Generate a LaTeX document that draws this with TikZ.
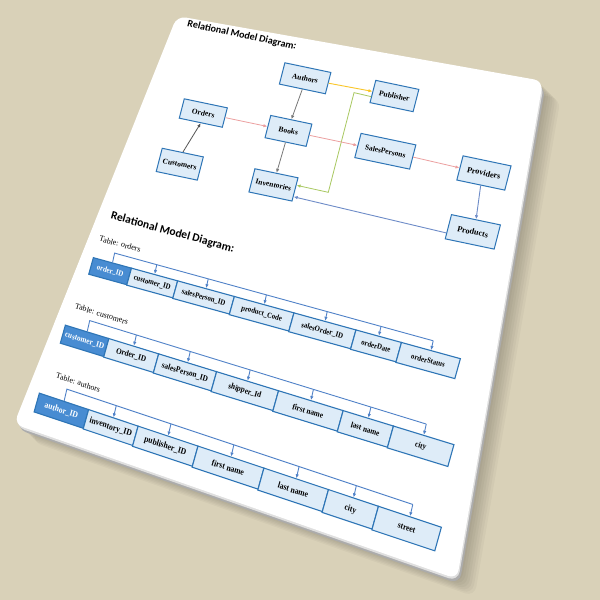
\documentclass[tikz,border=0pt]{standalone}
\usepackage{fontspec}
\setmainfont{Liberation Serif}
\newfontfamily\headfont{Carlito}
\newfontfamily\cellfont[FakeStretch=0.88]{Liberation Serif}
\usepackage{tikz}
\usetikzlibrary{arrows.meta,calc}
\definecolor{bgtan}{RGB}{217,209,184}
\definecolor{entblue}{RGB}{46,117,182}
\definecolor{entfill}{RGB}{222,236,248}
\definecolor{keyblue}{RGB}{72,140,210}
\definecolor{linkblue}{RGB}{80,130,200}
\definecolor{linkpink}{RGB}{236,160,160}
\definecolor{linkgold}{RGB}{250,198,40}
\definecolor{linkgreen}{RGB}{168,200,96}
\definecolor{linkgray}{RGB}{120,120,120}
\definecolor{linksteel}{RGB}{110,140,200}

\begin{document}
\begin{tikzpicture}[x=1pt, y=1pt,
    ent/.style={draw=entblue, fill=entfill, line width=1pt, minimum width=44, minimum height=22,
        inner sep=1pt, font=\fontsize{7.5}{9}\selectfont\bfseries, transform shape},
    entbig/.style={ent, minimum width=49, minimum height=25, font=\fontsize{8.2}{10}\selectfont\bfseries},
    cell/.style={draw=entblue, fill=entfill, line width=1.1pt, inner sep=0pt, anchor=north west, transform shape},
    keycell/.style={cell, fill=keyblue, text=white},
    tlabel/.style={font=\fontsize{8}{9}\selectfont, transform shape},
    head/.style={font=\headfont\bfseries\fontsize{11.5}{13}\selectfont, transform shape},
    link/.style={draw=linkblue, line width=0.9pt},
    >={Latex[length=4pt,width=3.4pt]}
]
\useasboundingbox (0,0) rectangle (600,600);
\fill[bgtan] (0,0) rectangle (600,600);

% sheet, its shadow and edge
\foreach \s in {2,4,...,16}
    \fill[black, opacity=0.03, rounded corners=10, shift={(1.1*\s,-1.1*\s)}]
        (177,584) -- (543,519) -- (457,21) -- (14,176) -- cycle;
\fill[gray!65, rounded corners=10, shift={(2.5,-5)}] (177,584) -- (543,519) -- (457,21) -- (14,176) -- cycle;
\fill[gray!25, rounded corners=10, shift={(1,-2.5)}] (177,584) -- (543,519) -- (457,21) -- (14,176) -- cycle;
\fill[white, rounded corners=9] (177,584) -- (543,519) -- (457,21) -- (14,176) -- cycle;

% relational diagram
\begin{scope}[cm={0.9786,-0.2055,0.25,0.968,(340,445)}]
\node[head, font=\headfont\bfseries\fontsize{10}{12}\selectfont] (title1) at (-125,97) {Relational Model Diagram:};
\node[ent, minimum width=47] (authors) at (-53,68) {Authors};
\node[ent, minimum height=23] (publisher) at (38,69) {Publisher};
\node[ent, minimum height=20] (orders) at (-143,13) {Orders};
\node[ent, minimum width=42, minimum height=23] (books) at (-56,13) {Books};
\node[ent, minimum width=56, minimum height=25] (sales) at (43,13) {SalesPersons};
\node[entbig] (providers) at (144,12) {Providers};
\node[ent, minimum width=42, minimum height=24] (customers) at (-153,-42) {Customers};
\node[ent, minimum height=24] (inventories) at (-57,-43) {Inventories};
\node[entbig, minimum width=50] (products) at (148,-48) {Products};
\coordinate (gtop) at (-2,64);
\coordinate (gbot) at (-2,-39);

\draw[->, linkgold, line width=0.9pt] (authors.east) -- (publisher.west);
\draw[->, linkgreen, line width=0.8pt] ($(publisher.west)!0.45!(publisher.south west)$) -- (gtop) -- (gbot)
    -- ($(inventories.east)!0.35!(inventories.north east)$);
\draw[->, linkgray, line width=0.8pt] (authors.south) -- (books.north);
\draw[->, linkgray, line width=0.8pt] (books.south) -- (inventories.north);
\draw[->, linkgray!70!black, line width=0.8pt] (customers.north) -- (orders.south);
\draw[->, linkpink, line width=0.8pt] (orders.east) -- (books.west);
\draw[->, linkpink, line width=0.8pt] (books.east) -- (sales.west);
\draw[->, linkpink, line width=0.8pt] (sales.east) -- (providers.west);
\draw[->, linksteel, line width=0.9pt] (providers.south) -- (products.north);
\draw[->, linksteel, line width=0.9pt] ($(products.west)!0.5!(products.south west)$)
    -- ($(inventories.east)!0.6!(inventories.south east)$);
\end{scope}

% table: orders
\begin{scope}[cm={0.9643,-0.2654,0.27,0.963,(93,343)}, font=\cellfont\fontsize{7.8}{9}\selectfont\bfseries]
\node[head] (title2) at (70,44.7) {Relational Model Diagram:};
\node[tlabel] (lblorders) at (22.5,19.7) {Table: orders};
\node[keycell, minimum width=39.5, minimum height=17.2] (ordid) at (0,0) {order\_ID};
\coordinate (ordid-t) at (19.75,9.5);
\foreach \n/\lbl/\x/\w in {ordcust/customer\_ID/39.5/47.9,ordsp/salesPerson\_ID/87.4/58.8,%
ordpc/product\_Code/146.2/61.8,ordso/salesOrder\_ID/208/64.3,%
orddate/orderDate/272.3/47.2,ordstat/orderStatus/319.5/61.1} {
    \node[cell, minimum width=\w, minimum height={17+4*(\x+\w/2)/380}] (\n) at (\x,0) {\lbl};
    \coordinate (\n-t) at ({\x+\w/2},9.5);
}
\draw[link] (ordid.north) -- (ordid-t) -- (ordstat-t);
\foreach \n in {ordcust,ordsp,ordpc,ordso,orddate,ordstat}
    \draw[link,->] (\n-t) -- (\n.north);
\end{scope}

% table: customers
\begin{scope}[cm={0.9559,-0.2939,0.27,0.963,(65,275.5)}, font=\cellfont\fontsize{8.3}{10}\selectfont\bfseries]
\node[tlabel] (lblcustomers) at (32.5,20.8) {Table: customers};
\node[keycell, minimum width=45.5, minimum height=18.7] (cusid) at (0,0) {customer\_ID};
\coordinate (cusid-t) at (22.75,11);
\foreach \n/\lbl/\x/\w in {cusord/Order\_ID/45.5/52.1,cussp/salesPerson\_ID/97.6/60.6,%
cusship/shipper\_Id/158.2/64.8,cusfirst/first name/223/67.6,%
cuslast/last name/290.6/52.6,cuscity/city/343.2/63.3} {
    \node[cell, minimum width=\w, minimum height={18.5+4.5*(\x+\w/2)/406}] (\n) at (\x,0) {\lbl};
    \coordinate (\n-t) at ({\x+\w/2},11);
}
\draw[link] (cusid.north) -- (cusid-t) -- (cuscity-t);
\foreach \n in {cusord,cussp,cusship,cusfirst,cuslast,cuscity}
    \draw[link,->] (\n-t) -- (\n.north);
\end{scope}

% table: authors
\begin{scope}[cm={0.9488,-0.3163,0.27,0.963,(39,207.5)}, font=\cellfont\fontsize{8.8}{10}\selectfont\bfseries]
\node[tlabel] (lblauthors) at (35.1,21.9) {Table: authors};
\node[keycell, minimum width=51.9, minimum height=19.4] (autid) at (0,0) {author\_ID};
\coordinate (autid-t) at (25.95,12);
\foreach \n/\lbl/\x/\w in {autinv/inventory\_ID/51.9/52.2,autpub/publisher\_ID/104.1/63.1,%
autfirst/first name/167.2/69.5,autlast/last name/236.7/68,%
autcity/city/304.7/52.7,autstreet/street/357.4/66.3} {
    \node[cell, minimum width=\w, minimum height={19+6*(\x+\w/2)/424}] (\n) at (\x,0) {\lbl};
    \coordinate (\n-t) at ({\x+\w/2},12);
}
\draw[link] (autid.north) -- (autid-t) -- (autstreet-t);
\foreach \n in {autinv,autpub,autfirst,autlast,autcity,autstreet}
    \draw[link,->] (\n-t) -- (\n.north);
\end{scope}
\end{tikzpicture}
\end{document}
